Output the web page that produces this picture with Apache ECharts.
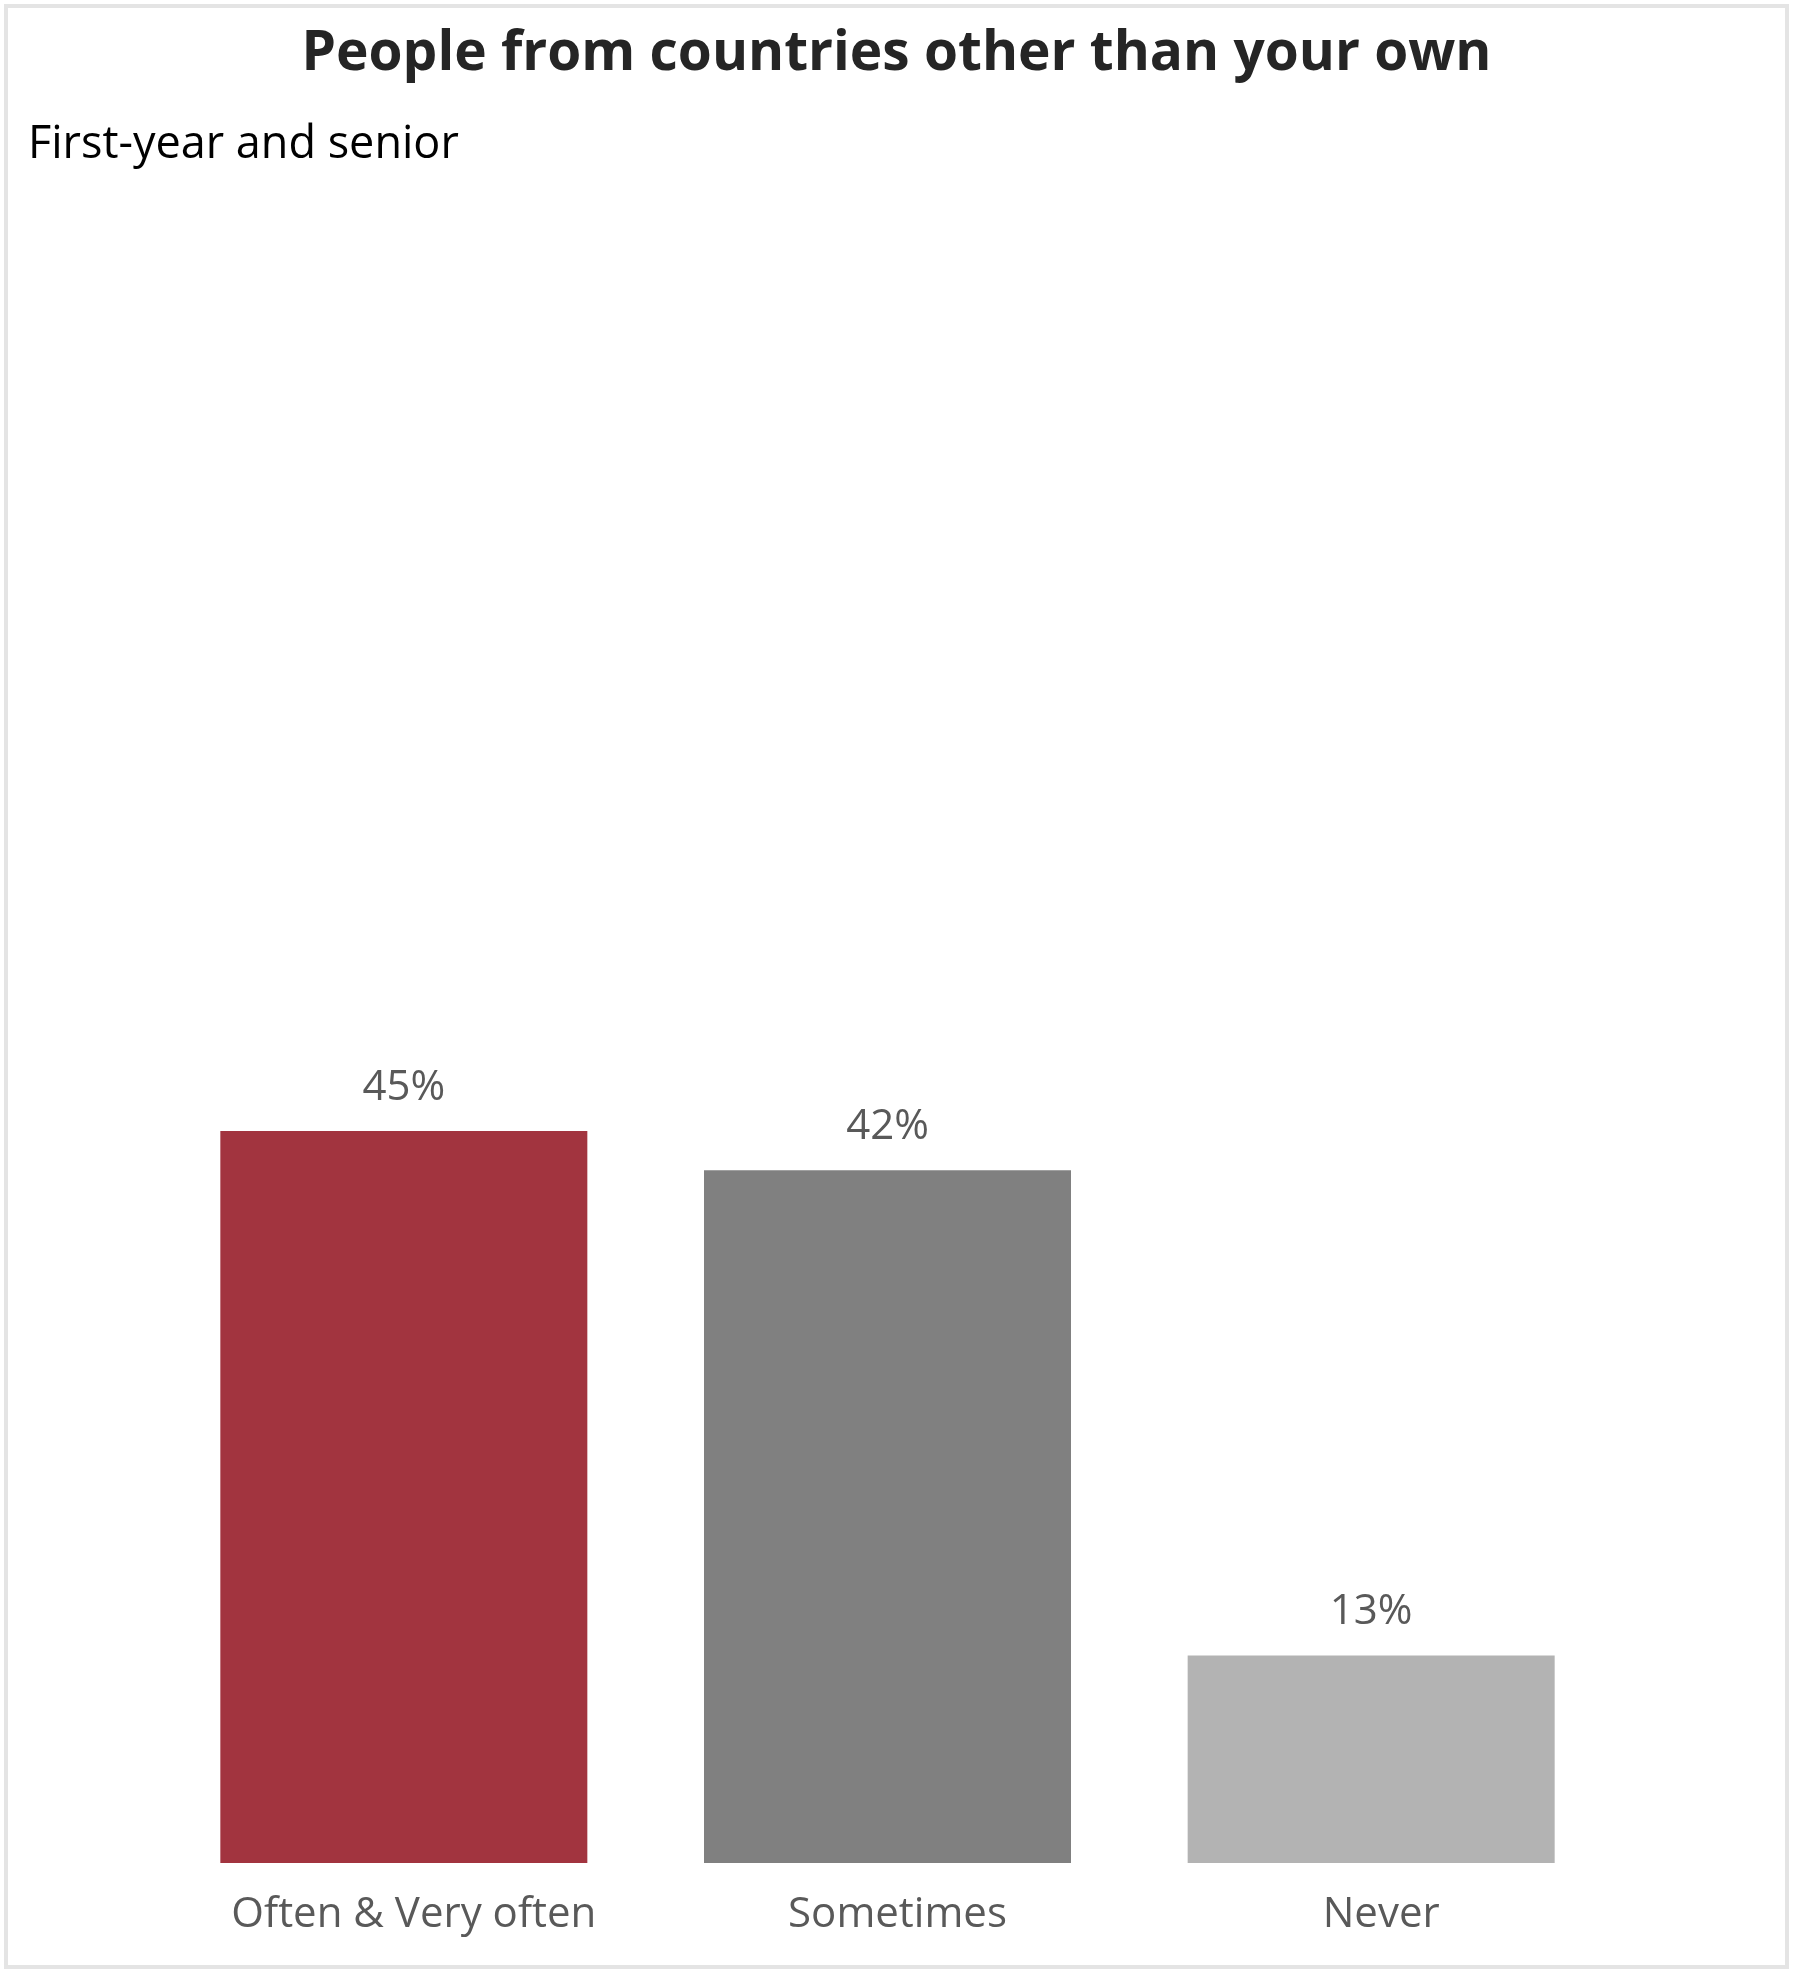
<!DOCTYPE html>
<html>
<head>
<meta charset="utf-8">
<script src="https://cdn.jsdelivr.net/npm/echarts@6/dist/echarts.min.js"></script>
<style>
html,body{margin:0;padding:0;background:#fff;}
#chart{width:1793px;height:1972px;}
</style>
</head>
<body>
<div id="chart"></div>
<script>
const titleText = "People from countries other than your own";
const subtitleText = "First-year and senior";
const categories = ["Often & Very often", "Sometimes", "Never"];
const values = [44.8, 42.4, 12.7];
const barColors = ["#A2343F", "#808080", "#B3B3B3"];

const chart = echarts.init(document.getElementById('chart'));
chart.setOption({
  backgroundColor: '#ffffff',
  animation: false,
  graphic: [{
    type: 'rect', silent: true,
    shape: {x: 6, y: 6, width: 1781, height: 1961},
    style: {fill: 'none', stroke: '#e4e4e4', lineWidth: 4}
  }],
  title: [{
    text: titleText,
    left: 'center', top: 22,
    textStyle: {fontFamily: 'Open Sans', fontWeight: 'bold', fontSize: 55, color: '#252525'}
  }, {
    text: subtitleText,
    left: 23, top: 118,
    textStyle: {fontFamily: 'Open Sans', fontWeight: 'normal', fontSize: 45, color: '#000000'}
  }],
  grid: {left: 162, right: 180, top: 229, bottom: 109, containLabel: false},
  xAxis: {
    type: 'category', data: categories,
    axisLine: {show: false}, axisTick: {show: false},
    axisLabel: {fontFamily: 'Open Sans', fontSize: 42, color: '#595959', margin: 31, padding: [0, 0, 0, 20]}
  },
  yAxis: {
    type: 'value', min: 0, max: 100, show: false, splitLine: {show: false}
  },
  series: [{
    type: 'bar', barWidth: 367,
    data: values.map((v, i) => ({value: v, itemStyle: {color: barColors[i]}})),
    label: {
      show: true, position: 'top', distance: 22,
      fontFamily: 'Open Sans', fontSize: 42, color: '#595959',
      formatter: p => Math.round(p.value) + '%'
    }
  }]
});
</script>
</body>
</html>
